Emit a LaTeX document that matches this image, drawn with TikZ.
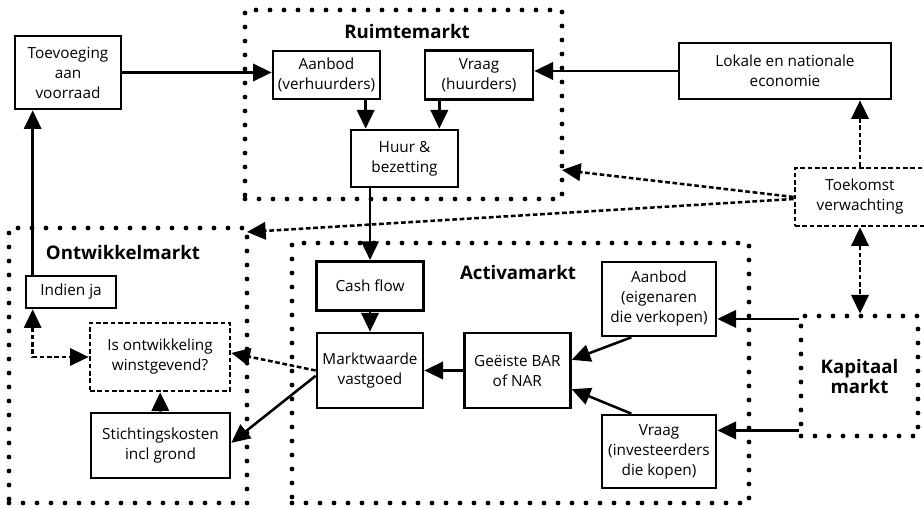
\documentclass[tikz,border=0pt]{standalone}
\usepackage{fontspec}
\setmainfont{Open Sans}
\usetikzlibrary{arrows.meta}
\usetikzlibrary{positioning}
\tikzstyle{block} = [rectangle, draw, line width=2pt, align=center,
    inner sep=1pt, font=\fontsize{11.5}{15}\selectfont]
\tikzstyle{guess} = [block, dash pattern=on 3.5pt off 2pt]
\tikzstyle{market} = [rectangle, draw, line width=3.6pt, line cap=round,
    dash pattern=on 0pt off 10.5pt]
\tikzstyle{title} = [font=\fontsize{14}{13.5}\selectfont\bfseries]
\tikzstyle{line} = [draw, line width=1.9pt, -{Triangle[length=14pt,width=13pt]}]
\tikzstyle{dline} = [line, dash pattern=on 3.5pt off 2pt]
\tikzstyle{both} = [{Triangle[length=14pt,width=13pt]}-{Triangle[length=14pt,width=13pt]}]

\begin{document}
\begin{tikzpicture}[x=0.75pt, y=-0.75pt]
  \useasboundingbox (0,0) rectangle (924,509);
  % Markets
  \node [market, minimum width=237.75pt, minimum height=141.75pt] (ruimte) at (403.5,104.5) {};
  \node [market, minimum width=178.5pt, minimum height=206.25pt] (ontw) at (128,365.5) {};
  \node [market, minimum width=342.75pt, minimum height=195pt] (activa) at (520.5,373) {};
  \node [market, title, align=center, minimum width=87.75pt, minimum height=90pt] (kapitaal) at (859.5,376) {Kapitaal\\markt};
  \node [title] (ruimtelabel) at (407,32) {Ruimtemarkt};
  \node [title] (ontwlabel) at (123,253) {Ontwikkelmarkt};
  \node [title] (activalabel) at (518,273) {Activamarkt};
  % Place nodes
  \node [block, minimum width=79.5pt, minimum height=54.75pt] (toev) at (68,72.5) {Toevoeging\\aan\\voorraad};
  \node [block, minimum width=80.25pt, minimum height=36pt] (aanbodV) at (326.5,75) {Aanbod\\(verhuurders)};
  \node [block, minimum width=81pt, minimum height=36.75pt] (vraagH) at (479,75) {Vraag\\(huurders)};
  \node [block, minimum width=80.25pt, minimum height=42.75pt] (huur) at (404.5,158.5) {Huur \&\\bezetting};
  \node [block, minimum width=159pt, minimum height=42pt] (lokaal) at (785,71) {Lokale en nationale\\economie};
  \node [guess, minimum width=97.5pt, minimum height=43.5pt] (toekomst) at (860,197) {Toekomst\\verwachting};
  \node [block, minimum width=67.5pt, minimum height=24pt] (indien) at (71,292) {Indien ja};
  \node [guess, minimum width=105pt, minimum height=51pt] (is) at (160,357) {Is ontwikkeling\\winstgevend?};
  \node [block, minimum width=104.25pt, minimum height=48.75pt] (stichting) at (160.5,445.5) {Stichtingskosten\\incl grond};
  \node [block, minimum width=79.5pt, minimum height=56.25pt] (markt) at (370,370.5) {Marktwaarde\\vastgoed};
  \node [block, minimum width=80.25pt, minimum height=36.75pt, above=15pt of markt] (cash) {Cash flow};
  \node [block, minimum width=79.5pt, minimum height=56.25pt, right=29pt of markt] (bar) {Geëiste BAR\\of NAR};
  \node [block, minimum width=85.5pt, minimum height=55.5pt] (aanbodE) at (659,299) {Aanbod\\(eigenaren\\die verkopen)};
  \node [block, minimum width=85.5pt, minimum height=54.75pt] (vraagI) at (659,451.5) {Vraag\\(investeerders\\die kopen)};
  \coordinate (rtip) at (562,170);
  \coordinate (otip) at (247,232);
  % Draw edges
  \path[line] (toev.east) -- (toev.east -| aanbodV.west);
  \path[line] (lokaal.west) -- (lokaal.west -| vraagH.east);
  \path[line] ([xshift=12pt]huur.north west |- aanbodV.south) -- ([xshift=12pt]huur.north west);
  \path[line] ([xshift=-15pt]huur.north east |- vraagH.south) -- ([xshift=-15pt]huur.north east);
  \path[line] (cash.north |- huur.south) -- (cash.north);
  \path[line] (cash.south) -- (cash.south |- markt.north);
  \path[line] (bar) -- (markt);
  \path[line] ([xshift=23pt]aanbodE.south west) -- ([yshift=8pt]bar.east);
  \path[line] ([xshift=23pt]vraagI.north west) -- ([yshift=-14pt]bar.east);
  \path[line] ([yshift=-4pt]kapitaal.north west) -- ([yshift=-4pt]kapitaal.north west -| aanbodE.east);
  \path[line] ([yshift=6pt]kapitaal.south west) -- ([yshift=6pt]kapitaal.south west -| vraagI.east);
  \path[line] ([yshift=-4pt]markt.west) -- ([yshift=2pt]stichting.east);
  \path[dline] (markt.west) -- ([yshift=3pt]is.east);
  \path[line] (stichting) -- (is);
  \path[line] ([xshift=6pt]indien.north west) -- ([xshift=6pt]indien.north west |- toev.south);
  \path[dline, both] ([xshift=6pt]indien.south west) |- (is.west);
  \path[dline] (toekomst.west) -- (rtip);
  \path[dline] ([yshift=-1.5pt]toekomst.west) -- (otip);
  \path[dline] (toekomst.north) -- (toekomst.north |- lokaal.south);
  \path[dline, both] (toekomst.south) -- (toekomst.south |- kapitaal.north);
\end{tikzpicture}
\end{document}
